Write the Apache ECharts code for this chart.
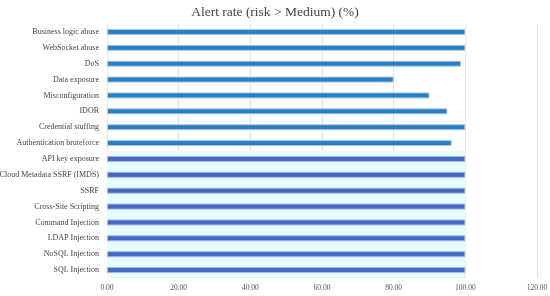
<!DOCTYPE html>
<html><head><meta charset="utf-8">
<script src="https://cdn.jsdelivr.net/npm/echarts@6/dist/echarts.min.js"></script>
<style>html,body{margin:0;padding:0;background:#fff}#c{width:550px;height:296px}</style>
</head><body><div id="c"></div>
<script>
const categories = ["Business logic abuse","WebSocket abuse","DoS","Data exposure","Misconfiguration","IDOR","Credential stuffing","Authentication bruteforce","API key exposure","Cloud Metadata SSRF (IMDS)","SSRF","Cross-Site Scripting","Command Injection","LDAP Injection","NoSQL Injection","SQL Injection"];
const values = [100,100,98.8,80,90,95,100,96.2,100,100,100,100,100,100,100,100];
const groupB = [false,false,false,false,false,false,false,false,true,true,true,true,true,true,true,true];
const xTicks = {min:0,max:120,interval:20};
const title = "Alert rate (risk > Medium) (%)";

const font = "'Liberation Serif', 'DejaVu Serif', serif";
const chart = echarts.init(document.getElementById('c'));
chart.setOption({
  animation:false,
  title:{text:title,left:'center',top:0,textStyle:{fontFamily:font,fontSize:13.5,fontWeight:'normal',color:'#444'}},
  grid:{left:107,right:13,top:24,bottom:18,containLabel:false,outerBoundsMode:'none'},
  xAxis:{type:'value',min:xTicks.min,max:xTicks.max,interval:xTicks.interval,
    axisLine:{show:false},axisTick:{show:false},
    axisLabel:{formatter:v=>v.toFixed(2),fontFamily:font,fontSize:7.5,color:'#555',margin:6},
    splitLine:{lineStyle:{color:'#e3e3e3',width:1}}},
  yAxis:[{type:'category',data:categories,inverse:true,
    axisLine:{show:false},axisTick:{show:false},
    axisLabel:{fontFamily:font,fontSize:8,color:'#444',margin:8}},
    {type:'category',data:categories,inverse:true,show:false}],
  series:[
    {type:'bar',yAxisIndex:1,barWidth:'100%',silent:true,z:1,
      data:values.map((v,i)=>groupB[i]?100:null),
      itemStyle:{color:'#E6FDFF'}},
    {type:'bar',yAxisIndex:0,barWidth:6,z:3,
      data:values.map((v,i)=>({value:v,itemStyle:groupB[i]?
        {color:'#4468C3',borderColor:'#A9B6E8',borderWidth:1}:
        {color:'#2A7EC2',borderColor:'#A6CAEB',borderWidth:1}}))}
  ]
});
</script></body></html>
